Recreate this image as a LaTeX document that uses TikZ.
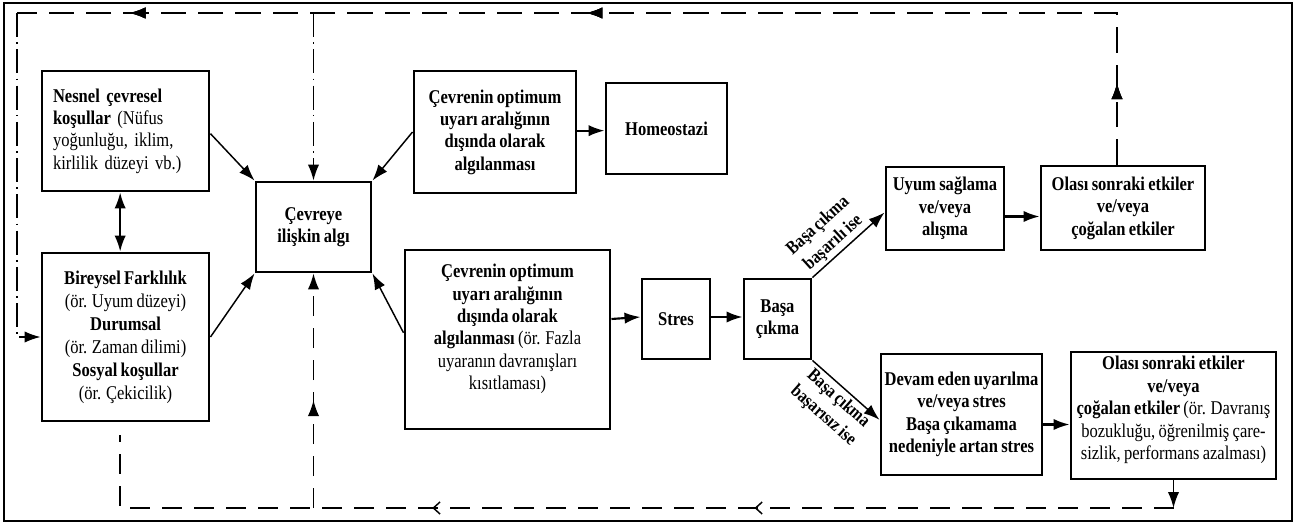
\documentclass[tikz,border=0pt]{standalone}
\usepackage{fontspec}
\setmainfont{Liberation Serif}[FakeStretch=0.85,WordSpace=0.8]
\usetikzlibrary{arrows.meta,calc,decorations.markings}
\begin{document}
\begin{tikzpicture}[x=0.75pt,y=-0.75pt,
  box/.style={draw, line width=2.2pt, inner sep=0pt, align=center, font=\fontsize{14.6}{16.8}\selectfont},
  boxb/.style={box, font=\fontsize{14.6}{16.8}\selectfont\bfseries},
  txt/.style={inner sep=0pt, align=center, font=\fontsize{14.6}{16.8}\selectfont},
  lbl/.style={inner sep=2pt, align=center, font=\fontsize{14}{17}\selectfont\bfseries},
  arr/.style={line width=1.6pt, -{Latex[length=12pt,width=8.5pt]}},
  darr/.style={line width=1.3pt, {Latex[length=12pt,width=8.5pt]}-{Latex[length=12pt,width=8.5pt]}},
  tarr/.style={line width=1.1pt, -{Latex[length=12pt,width=8.5pt]}},
  topdash/.style={line width=1.1pt, dash pattern=on 19pt off 9pt},
  dotdash/.style={line width=1.1pt, dash pattern=on 18pt off 4pt on 1.2pt off 4pt},
  botdash/.style={line width=1.1pt, dash pattern=on 15pt off 9pt},
  fmark/.style={postaction={decorate}, decoration={markings, mark=at position #1 with {\arrow{Latex[length=12pt,width=8.5pt]}}}},
]
\useasboundingbox (0,0) rectangle (1296,524);
\draw[line width=1.8pt] (4,3) rectangle (1292,521);

% boxes
\node[box, text width=108.75pt, align=left, minimum width=125.25pt, minimum height=90pt] (nes) at (125.5,131)
  {\textbf{Nesnel çevresel}\\\textbf{koşullar} (Nüfus\\yoğunluğu, iklim,\\kirlilik düzeyi vb.)};
\node[box, minimum width=125.25pt, minimum height=126pt, font=\fontsize{14.6}{17.3}\selectfont] (bir) at (125.5,337)
  {\textbf{Bireysel Farklılık}\\(ör. Uyum düzeyi)\\\textbf{Durumsal}\\(ör. Zaman dilimi)\\\textbf{Sosyal koşullar}\\(ör. Çekicilik)};
\node[boxb, minimum width=86.25pt, minimum height=67.5pt] (cev) at (313.5,227) {Çevreye\\ilişkin algı};
\node[boxb, minimum width=121.5pt, minimum height=91.5pt] (opt1) at (495,132)
  {Çevrenin optimum\\uyarı aralığının\\dışında olarak\\algılanması};
\node[boxb, minimum width=90.75pt, minimum height=68.25pt] (hom) at (666.5,128.5) {Homeostazi};
\node[box, minimum width=153.75pt, minimum height=134.25pt] (opt2) at (507.5,339.5) {};
\node[txt] (opt2t) at (507.5,329)
  {\textbf{Çevrenin optimum}\\\textbf{uyarı aralığının}\\\textbf{dışında olarak}\\\textbf{algılanması} (ör. Fazla\\uyaranın davranışları\\kısıtlaması)};
\node[boxb, minimum width=51pt, minimum height=60pt] (str) at (676,319) {Stres};
\node[boxb, minimum width=50.25pt, minimum height=60pt] (bas) at (777.5,319) {Başa\\çıkma};
\node[boxb, minimum width=88.5pt, minimum height=62.25pt] (uyum) at (945,208.5) {Uyum sağlama\\ve/veya\\alışma};
\node[boxb, minimum width=123pt, minimum height=63pt] (ola1) at (1123,208) {Olası sonraki etkiler\\ve/veya\\çoğalan etkiler};
\node[boxb, minimum width=120.75pt, minimum height=90.75pt] (dev) at (961.5,414.5)
  {Devam eden uyarılma\\ve/veya stres\\Başa çıkamama\\nedeniyle artan stres};
\node[box, minimum width=153.75pt, minimum height=95.25pt] (ola2) at (1173.5,415.5) {};
\node[txt] (ola2t) at (1173.5,410)
  {\textbf{Olası sonraki etkiler}\\\textbf{ve/veya}\\\textbf{çoğalan etkiler} (ör. Davranış\\bozukluğu, öğrenilmiş çare-\\sizlik, performans azalması)};

% helper coordinates
\coordinate (tr) at (1117,13);
\coordinate (tl) at (17,13);
\coordinate (bl) at (120,508);
\coordinate (be) at (120,435);

% solid connectors
\draw[tarr] ([yshift=-2pt]nes.east) -- (cev.north west);
\draw[tarr] (bir.east) -- (cev.south west);
\draw[tarr] (opt1.west) -- (cev.north east);
\draw[tarr] ([yshift=5pt]opt2.west) -- (cev.south east);
\draw[darr] ([xshift=-4pt]nes.south) -- ([xshift=-4pt]bir.north);
\draw[arr] ([yshift=1pt]opt1.east) -- ([yshift=1pt]opt1.east -| hom.west);
\draw[arr] (str.west -| opt2.east) -- ([yshift=1.5pt]str.west);
\draw[arr] ([yshift=1.5pt]str.east) -- ([yshift=1.5pt]bas.west);
\draw[arr] ([yshift=-6pt]uyum.east) -- ([yshift=-6pt]uyum.east -| ola1.west);
\draw[arr] ([yshift=-7.5pt]dev.east) -- ([yshift=-7.5pt]dev.east -| ola2.west);
\draw[tarr] (bas.north east) -- node[lbl, sloped, above, pos=0.4] {Başa çıkma\\başarılı ise} ([yshift=-3pt]uyum.west);
\draw[tarr] (bas.south east) -- node[lbl, sloped, below, pos=0.5] {Başa çıkma\\başarısız ise} ([yshift=-4pt]dev.west);

% feedback loops
\draw[topdash, fmark/.list={0.065,0.545,0.91}] (ola1.north -| tr) -- (tr) -- (tl);
\draw[dotdash, tarr] (tl) -- (tl |- bir.west) -- (bir.west);
\draw[dotdash, tarr] (tl -| cev.north) -- (cev.north);
\draw[tarr] (ola2.south) -- (ola2.south |- bl);
\draw[botdash, line width=1.1pt, postaction={decorate},
  decoration={markings,
    mark=at position 0.372 with {\arrow{Straight Barb[length=5pt,width=9pt]}},
    mark=at position 0.658 with {\arrow{Straight Barb[length=5pt,width=9pt]}}}]
  (ola2.south |- bl) -- (bl) -- (be);
\draw[botdash, tarr, fmark=0.46] (cev.south |- bl) -- (cev.south);
\end{tikzpicture}
\end{document}
